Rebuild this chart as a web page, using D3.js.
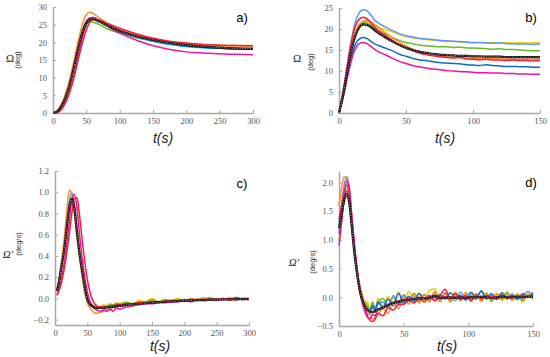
<!DOCTYPE html>
<html>
<head>
<meta charset="utf-8">
<script src="https://cdn.jsdelivr.net/npm/d3@7"></script>
<style>
  body { margin: 0; background: #fff; }
  svg { display: block; }
  .tick text { font-family: "Liberation Serif", serif; font-size: 8.5px; fill: #555; }
  .domain { stroke: #a8a8a8; stroke-width: 1.5; }
  .tick line { stroke: #a8a8a8; }
</style>
</head>
<body>
<div id="chart"></div>
<script>
const W = 550, H = 357;

// colours of the runs
const colOrange = "#ff8c1a", colRed = "#ff1a3a", colMagenta = "#f0149c",
      colGreen = "#66bb2a", colBlue = "#5b96f5", colCyan = "#0a9ad8",
      colNavy = "#3b3b9c", colYellow = "#f2cc00", colDark = "#0a6ebd", colMean = "#111";

// ---- panel a: angle, long run ----
const tA = [0,5,10,15,20,25,30,35,40,45,50,55,60,70,80,90,100,120,140,160,180,200,225,250,275,300];
const aOrange  = [0,0.4,1.5,3.5,6.2,9.6,13.6,18.0,22.2,25.6,27.8,28.5,28.2,26.8,25.6,24.6,23.8,22.5,21.4,20.6,20.0,19.6,19.3,19.1,19.0,19.0];
const aYellow  = [0,0.3,1.3,3.1,5.6,8.8,12.6,16.8,20.8,23.8,25.6,26.3,26.4,25.8,25.0,24.2,23.5,22.3,21.3,20.5,20.0,19.6,19.4,19.2,19.1,19.1];
const aGreen   = [0,0.3,1.3,3.0,5.4,8.6,12.5,16.6,20.4,23.3,25.0,25.8,25.7,25.0,24.0,23.2,22.6,21.6,20.8,20.1,19.5,19.0,18.6,18.3,18.1,18.0];
const aCyan    = [0,0.3,1.2,2.9,5.2,8.3,12.1,16.3,20.3,23.6,25.8,26.7,26.8,26.0,25.0,24.0,23.0,21.7,20.7,19.9,19.3,18.8,18.5,18.3,18.2,18.2];
const aNavy    = [0,0.3,1.2,2.8,5.1,8.2,12.0,16.2,20.2,23.6,25.9,26.9,27.0,26.1,25.1,24.2,23.4,22.1,21.0,20.2,19.6,19.1,18.7,18.4,18.2,18.1];
const aMagenta = [0,0.1,0.5,1.6,3.4,6.0,9.4,13.6,18.0,22.0,25.0,26.8,27.0,26.0,24.8,23.6,22.6,21.0,19.6,18.6,17.8,17.3,17.0,16.8,16.6,16.5];
const aRed     = [0,0.1,0.6,1.8,3.6,6.0,9.0,12.8,16.8,20.5,23.5,25.6,26.4,26.3,25.5,24.7,24.0,22.7,21.6,20.8,20.2,19.8,19.4,19.2,19.1,19.0];
const aMean    = [0,0.3,1.2,2.8,5.0,8.0,11.8,16.0,20.0,23.3,25.4,26.4,26.6,25.8,24.9,24.0,23.2,22.0,21.1,20.3,19.7,19.2,18.8,18.5,18.3,18.2];

// ---- panel b: angle, short run ----
const tB = [0,3,6,9,12,15,18,21,24,27,30,35,40,45,50,55,60,65,70,75,80,85,90,95,100,105,110,115,120,125,130,135,140,145,150];
const bBlue    = [0,5.0,11.2,17.0,21.5,23.8,24.6,24.3,23.2,22.0,21.3,20.4,19.6,18.9,18.4,18.1,17.8,17.6,17.5,17.3,17.2,17.1,17.0,16.9,16.8,16.8,16.7,16.6,16.7,16.5,16.5,16.4,16.4,16.3,16.4];
const bYellow  = [0,4.5,10.0,15.2,18.8,20.8,21.6,21.8,21.5,20.9,20.4,19.8,19.3,18.7,18.2,17.9,17.7,17.5,17.3,17.2,17.0,17.1,16.9,16.8,16.7,16.8,16.6,16.8,16.6,16.7,16.6,16.8,16.6,16.7,16.7];
const bGreen   = [0,4.3,9.8,15.0,18.8,20.8,21.5,21.4,20.8,20.1,19.5,18.7,18.0,17.3,16.8,16.5,16.2,16.0,15.9,15.8,15.8,15.6,15.7,15.5,15.5,15.4,15.3,15.2,15.3,15.1,15.1,15.0,14.9,14.8,14.8];
const bOrange  = [0,4.6,10.3,15.6,19.2,21.0,21.8,22.0,21.7,21.0,20.2,19.0,17.9,16.9,16.0,15.2,14.6,14.1,13.8,13.6,13.4,13.3,13.2,13.1,13.0,13.0,12.9,12.9,12.9,12.8,12.8,12.8,12.8,12.8,12.8];
const bRed     = [0,4.8,10.8,16.5,20.5,22.3,22.8,22.4,21.4,20.3,19.5,18.3,17.3,16.3,15.5,14.8,14.3,13.9,13.6,13.4,13.2,13.1,13.2,12.9,12.8,12.7,12.8,12.6,12.6,12.5,12.6,12.5,12.5,12.4,12.5];
const bMean    = [0,4.2,9.5,14.5,18.2,20.3,21.1,21.0,20.4,19.6,18.9,17.9,17.0,16.2,15.5,15.0,14.6,14.3,14.1,13.9,13.8,13.7,13.6,13.6,13.5,13.5,13.4,13.4,13.4,13.3,13.3,13.3,13.3,13.3,13.3];
const bDark    = [0,3.8,8.5,13.0,16.2,17.6,18.0,17.7,17.0,16.4,16.0,15.4,14.8,14.0,13.5,13.0,12.6,12.5,12.2,12.0,11.9,11.8,11.7,11.5,11.4,11.3,11.5,11.3,11.2,11.1,11.1,11.0,11.0,10.9,10.9];
const bMagenta = [0,3.5,8.0,12.2,15.2,16.5,16.8,16.5,15.8,15.1,14.5,13.8,13.0,12.3,11.8,11.3,11.0,10.7,10.5,10.3,10.1,10.0,9.9,9.8,9.7,9.6,9.6,9.5,9.5,9.4,9.4,9.3,9.3,9.2,9.2];

// ---- panel c: angular rate, long run ----
const tC = [3,6,10,14,18,22,26,30,34,38,42,46,50,55,60,65,70,75,80,85,90,95,100,110,120,130,140,150,160,170,180,190,200,210,220,230,240,250,260,270,280,290,300];
const cOrange  = [0.09,0.18,0.35,0.55,0.8,1.02,0.98,0.8,0.58,0.38,0.2,0.05,-0.04,-0.1,-0.13,-0.14,-0.13,-0.12,-0.1,-0.11,-0.08,-0.09,-0.06,-0.05,-0.07,-0.03,-0.05,-0.02,-0.04,-0.01,-0.03,-0.01,-0.03,0.0,-0.02,-0.01,0.01,-0.02,0.0,-0.02,0.01,-0.01,0.0];
const cYellow  = [0.08,0.16,0.31,0.47,0.66,0.84,0.92,0.86,0.64,0.42,0.24,0.09,0.0,-0.05,-0.07,-0.07,-0.08,-0.06,-0.07,-0.05,-0.06,-0.04,-0.05,-0.03,-0.05,-0.02,-0.03,0.0,-0.03,-0.01,-0.02,0.0,-0.02,-0.01,-0.01,0.01,-0.01,0.0,-0.01,0.01,-0.01,0.0,0.0];
const cBlue    = [0.06,0.13,0.28,0.45,0.68,0.9,1.0,0.88,0.65,0.42,0.24,0.09,-0.02,-0.07,-0.09,-0.1,-0.09,-0.1,-0.08,-0.09,-0.07,-0.08,-0.06,-0.06,-0.05,-0.05,-0.04,-0.03,-0.04,-0.02,-0.03,-0.02,-0.02,-0.01,-0.02,0.0,-0.01,-0.01,0.0,-0.01,0.0,0.0,0.0];
const cGreen   = [0.08,0.16,0.3,0.45,0.64,0.82,0.9,0.86,0.66,0.44,0.25,0.1,0.0,-0.05,-0.07,-0.08,-0.08,-0.07,-0.07,-0.06,-0.06,-0.05,-0.05,-0.04,-0.05,-0.03,-0.03,-0.01,-0.03,-0.02,-0.02,-0.02,-0.01,-0.02,-0.01,-0.01,0.0,-0.01,-0.01,0.0,-0.01,0.0,0.0];
const cMagenta = [0.03,0.08,0.18,0.32,0.5,0.72,0.92,0.98,0.85,0.6,0.38,0.2,0.06,-0.04,-0.09,-0.11,-0.12,-0.11,-0.12,-0.1,-0.12,-0.09,-0.1,-0.08,-0.07,-0.06,-0.05,-0.05,-0.04,-0.04,-0.03,-0.03,-0.02,-0.03,-0.01,-0.02,-0.01,-0.02,0.0,-0.01,0.01,-0.01,-0.01];
const cRed     = [0.03,0.07,0.15,0.27,0.42,0.6,0.8,0.94,0.95,0.78,0.55,0.35,0.18,0.04,-0.04,-0.07,-0.08,-0.08,-0.08,-0.07,-0.07,-0.06,-0.06,-0.05,-0.05,-0.04,-0.04,-0.03,-0.03,-0.03,-0.02,-0.02,-0.02,-0.01,-0.01,-0.01,-0.01,-0.01,-0.01,0.0,-0.01,0.0,-0.01];
const cMean    = [0.07,0.15,0.3,0.45,0.66,0.86,0.94,0.85,0.62,0.42,0.26,0.11,-0.01,-0.06,-0.08,-0.09,-0.09,-0.09,-0.085,-0.08,-0.08,-0.07,-0.07,-0.06,-0.055,-0.05,-0.045,-0.04,-0.035,-0.03,-0.028,-0.025,-0.02,-0.02,-0.015,-0.015,-0.012,-0.01,-0.01,-0.01,-0.008,-0.006,-0.005];

// ---- panel d: angular rate, short run ----
const tD = [0,2,4,6,8,10,12,14,16,18,20,22,24,26,28,30,34,38,42,46,50,54,58,62,66,70,74,78,82,86,90,94,98,102,106,110,114,118,122,126,130,134,138,142,146,150];
const dOrange  = [1.6,1.9,2.1,2.05,1.7,1.25,0.8,0.45,0.2,0.05,-0.1,-0.2,-0.3,-0.38,-0.35,-0.3,-0.2,-0.28,-0.08,-0.2,0.0,-0.12,0.05,-0.1,0.05,-0.08,0.1,-0.08,0.06,-0.07,0.05,-0.06,0.08,-0.04,0.06,-0.07,0.05,-0.04,0.06,-0.05,0.04,-0.05,0.06,-0.03,0.05,0.0];
const dYellow  = [1.0,1.35,1.7,1.9,1.75,1.3,0.85,0.45,0.15,-0.05,-0.15,-0.08,-0.2,-0.1,-0.2,-0.02,-0.15,0.02,-0.1,0.08,-0.06,0.1,-0.04,0.08,-0.06,0.12,0.15,-0.06,0.08,-0.05,0.1,-0.04,0.07,-0.07,0.06,-0.03,0.08,-0.06,0.07,-0.05,0.1,-0.03,0.05,-0.08,0.06,0.03];
const dGreen   = [1.25,1.45,1.65,1.75,1.6,1.2,0.8,0.45,0.18,0.0,-0.08,-0.15,-0.22,-0.08,-0.22,-0.1,-0.02,-0.16,0.0,-0.13,0.04,-0.07,0.07,-0.06,0.05,-0.05,0.09,-0.03,0.06,-0.08,0.05,-0.04,0.08,-0.06,0.04,-0.03,0.06,-0.07,0.05,-0.03,0.08,-0.05,0.03,-0.06,0.05,-0.03];
const dBlue    = [1.3,1.6,1.95,2.1,1.9,1.35,0.85,0.45,0.15,-0.05,-0.2,-0.3,-0.28,-0.18,-0.26,-0.12,-0.08,-0.18,0.03,-0.12,0.04,-0.07,0.01,-0.08,0.05,-0.04,0.03,-0.06,0.08,0.0,-0.06,0.09,-0.03,0.05,-0.04,0.11,0.0,0.07,-0.04,0.03,-0.03,0.06,-0.03,0.02,0.1,0.03];
const dDark    = [1.1,1.4,1.7,1.85,1.7,1.25,0.8,0.42,0.15,-0.05,-0.15,-0.2,-0.24,-0.14,-0.22,-0.08,-0.18,-0.03,-0.15,0.07,-0.1,0.02,-0.07,0.06,-0.03,0.03,-0.06,0.05,-0.03,0.08,0.0,0.03,-0.05,0.09,0.0,0.11,-0.03,0.05,-0.03,0.08,0.0,0.03,-0.04,0.06,0.0,0.08];
const dRed     = [1.35,1.6,1.85,1.95,1.8,1.35,0.9,0.5,0.2,-0.02,-0.18,-0.32,-0.4,-0.42,-0.38,-0.28,-0.32,-0.18,-0.22,-0.12,-0.12,-0.05,-0.1,-0.02,-0.08,0.02,-0.06,0.03,0.14,-0.03,0.07,-0.04,0.03,-0.06,0.04,-0.03,0.03,0.0,-0.03,0.04,-0.02,0.03,0.0,0.04,0.0,0.03];
const dMagenta = [0.9,1.3,1.75,2.02,1.9,1.4,0.9,0.45,0.12,-0.1,-0.25,-0.35,-0.38,-0.3,-0.32,-0.2,-0.18,-0.12,-0.1,-0.06,-0.05,-0.02,-0.03,0.0,-0.02,0.01,-0.01,0.0,0.01,-0.01,0.0,0.01,0.0,0.01,0.0,0.0,0.01,0.0,0.01,0.0,0.0,0.01,0.0,0.0,0.01,0.02];
const dMean    = [1.2,1.45,1.7,1.8,1.65,1.2,0.75,0.4,0.12,-0.05,-0.15,-0.22,-0.25,-0.26,-0.24,-0.22,-0.18,-0.14,-0.1,-0.08,-0.05,-0.04,-0.03,-0.02,-0.02,-0.01,0.03,-0.01,-0.01,0.0,-0.01,0.0,-0.01,0.0,0.0,0.01,0.0,-0.01,0.0,0.01,0.0,0.0,0.01,0.0,0.01,0.01];

const panels = [
  { t: tA, xDom: [0, 300], xTicks: [0,50,100,150,200,250,300], yDom: [0, 30], yTicks: [0,5,10,15,20,25,30],
    x0: 53, x1: 253, y0: 113, y1: 7, tag: "a)", tagX: 242, tagY: 22, sym: "Ω", unit: "(deg)", symX: 10, unitX: 20, symY: 62, unitY: 60, titleX: 163, titleY: 143,
    series: [[aYellow,colYellow],[aGreen,colGreen],[aCyan,colCyan],[aNavy,colNavy],[aOrange,colOrange],[aMagenta,colMagenta],[aRed,colRed]], mean: aMean },
  { t: tB, xDom: [0, 150], xTicks: [0,50,100,150], yDom: [0, 25], yTicks: [0,5,10,15,20,25],
    x0: 339, x1: 540, y0: 113, y1: 8, tag: "b)", tagX: 531, tagY: 22, sym: "Ω", unit: "(deg)", symX: 297, unitX: 313, symY: 62, unitY: 62, titleX: 445, titleY: 143,
    series: [[bYellow,colYellow],[bBlue,colBlue],[bGreen,colGreen],[bOrange,colOrange],[bRed,colRed],[bDark,colDark],[bMagenta,colMagenta]], mean: bMean },
  { t: tC, xDom: [0, 300], xTicks: [0,50,100,150,200,250,300], yDom: [-0.25, 1.2], yTicks: [-0.2,0,0.2,0.4,0.6,0.8,1,1.2],
    x0: 55, x1: 249, y0: 325, y1: 171, tag: "c)", tagX: 242, tagY: 188, sym: "Ω'", unit: "(deg/s)", symX: 8, unitX: 21, symY: 258, unitY: 244, titleX: 160, titleY: 351,
    series: [[cYellow,colYellow],[cBlue,colBlue],[cGreen,colGreen],[cOrange,colOrange],[cMagenta,colMagenta],[cRed,colRed]], mean: cMean },
  { t: tD, xDom: [0, 150], xTicks: [0,50,100,150], yDom: [-0.5, 2.2], yTicks: [-0.5,0,0.5,1,1.5,2],
    x0: 339, x1: 533, y0: 326, y1: 171, tag: "d)", tagX: 531, tagY: 187, sym: "Ω'", unit: "(deg/s)", symX: 294, unitX: 315, symY: 266, unitY: 262, titleX: 447, titleY: 351,
    series: [[dYellow,colYellow],[dGreen,colGreen],[dBlue,colBlue],[dDark,colDark],[dOrange,colOrange],[dRed,colRed],[dMagenta,colMagenta]], mean: dMean }
];

const svg = d3.select("#chart").append("svg")
  .attr("width", W).attr("height", H);

panels.forEach(function(p) {
  const x = d3.scaleLinear().domain(p.xDom).range([p.x0, p.x1]);
  const y = d3.scaleLinear().domain(p.yDom).range([p.y0, p.y1]);
  const g = svg.append("g");

  g.append("g")
    .attr("transform", "translate(0," + p.y0 + ")")
    .call(d3.axisBottom(x).tickValues(p.xTicks).tickSize(-3).tickPadding(5).tickSizeOuter(0));
  g.append("g")
    .attr("transform", "translate(" + p.x0 + ",0)")
    .call(d3.axisLeft(y).tickValues(p.yTicks).tickSize(-3).tickPadding(6).tickSizeOuter(0));

  const line = d3.line()
    .x((d, i) => x(p.t[i]))
    .y(d => y(d))
    .curve(d3.curveMonotoneX);

  p.series.forEach(function(s) {
    g.append("path").datum(s[0])
      .attr("d", line).attr("fill", "none")
      .attr("stroke", s[1]).attr("stroke-width", 1.5);
  });
  g.append("path").datum(p.mean)
    .attr("d", line).attr("fill", "none")
    .attr("stroke", colMean).attr("stroke-width", 2.2);
  g.append("path").datum(p.mean)
    .attr("d", line).attr("fill", "none")
    .attr("stroke", "#aaa").attr("stroke-width", 1)
    .attr("stroke-dasharray", "1,1.6");

  // panel tag and axis titles
  g.append("text").attr("x", p.tagX).attr("y", p.tagY)
    .attr("text-anchor", "middle")
    .style("font-family", "Liberation Sans, sans-serif").style("font-size", "13px")
    .text(p.tag);
  g.append("text").attr("x", p.titleX).attr("y", p.titleY)
    .attr("text-anchor", "middle")
    .style("font-family", "Liberation Sans, sans-serif").style("font-size", "14px")
    .style("font-style", "italic").style("fill", "#222")
    .text("t(s)");
  g.append("text").attr("x", p.symX).attr("y", p.symY)
    .attr("text-anchor", "middle")
    .style("font-family", "Liberation Serif, serif").style("font-size", "11px")
    .style("font-style", p.sym === "Ω" ? "normal" : "italic").style("fill", "#222")
    .text(p.sym);
  g.append("text")
    .attr("transform", "translate(" + p.unitX + "," + p.unitY + ") rotate(-90)")
    .attr("text-anchor", "middle")
    .style("font-family", "Liberation Sans, sans-serif").style("font-size", "7.5px")
    .style("fill", "#333")
    .text(p.unit);
});
</script>
</body>
</html>
